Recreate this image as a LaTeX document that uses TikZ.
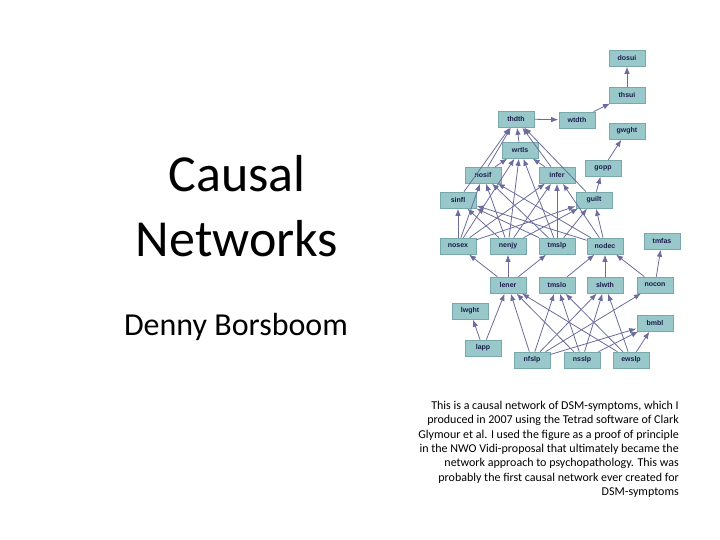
\documentclass[tikz,border=0pt]{standalone}
\usepackage{fontspec}
\setmainfont{Carlito}
\newfontfamily\netfont{Liberation Sans}
\usetikzlibrary{arrows.meta}

\definecolor{boxfill}{HTML}{98C8CA}
\definecolor{boxline}{HTML}{78A8AC}
\definecolor{boxtext}{HTML}{1C1C4C}
\definecolor{edgecol}{HTML}{6C6C9C}

\tikzset{
  varbox/.style={draw=boxline, fill=boxfill, line width=0.6pt, minimum width=36pt,
    minimum height=16pt, inner sep=0pt, text=boxtext, font=\netfont\bfseries\fontsize{7}{8}\selectfont},
  edge/.style={draw=edgecol, line width=0.8pt, -{Latex[length=7pt,width=5.5pt]}, shorten >=0.5pt},
}

\begin{document}
\begin{tikzpicture}[x=1pt,y=-1pt]
  \useasboundingbox (0,0) rectangle (720,540);     % the slide
  % left titles
  \node[align=center, font=\fontsize{52}{65}\selectfont] (title) at (237,206) {Causal\\Networks};
  \node[font=\fontsize{32}{36}\selectfont] (author) at (236,327) {Denny Borsboom};
  % the network: name/x/y
  \foreach \n/\x/\y in {dosui/627/58, thsui/627/95, thdth/516/119, wtdth/577/120,
      gwght/627/131, wrtls/520/150, nosif/483/175, infer/557/175, gopp/603/168,
      sinfl/458/200, guilt/594/200, nosex/458/246, nenjy/508/246, tmslp/557/246,
      nodec/605/246, tmfas/662/241, lener/508/285, tmslo/557/285, slwth/605/285,
      nocon/655/285, lwght/470/311, bmbl/655/323, lapp/483/348, nfslp/532/360,
      nsslp/582/360, ewslp/631/360}
    \node[varbox] (\n) at (\x,\y) {\n};
  % top part
  \foreach \a/\b in {thsui/dosui, wtdth/thsui, thdth/wtdth, gopp/gwght, guilt/gopp,
      wrtls/thdth, nosif/thdth, sinfl/thdth, infer/thdth, guilt/thdth,
      nosif/wrtls, infer/wrtls, nenjy/wrtls, tmslp/wrtls, nosex/wrtls}
    \draw[edge] (\a) -- (\b);
  % middle rows
  \foreach \a/\b in {nosex/sinfl, nosex/nosif, nosex/infer, nosex/guilt,
      nenjy/sinfl, nenjy/nosif, nenjy/infer, nenjy/guilt,
      tmslp/sinfl, tmslp/nosif, tmslp/infer, tmslp/guilt,
      nodec/sinfl, nodec/nosif, nodec/infer, nodec/guilt}
    \draw[edge] (\a) -- (\b);
  % bottom part
  \foreach \a/\b in {lener/nosex, lener/nenjy, lener/tmslp, tmslo/nodec, slwth/nodec,
      nocon/nodec, nocon/tmfas, lapp/lwght, lapp/lener,
      nfslp/lener, nfslp/tmslo, nfslp/slwth, nfslp/nocon, nfslp/bmbl,
      nsslp/lener, nsslp/tmslo, nsslp/slwth, nsslp/bmbl,
      ewslp/lener, ewslp/tmslo, ewslp/slwth, ewslp/bmbl}
    \draw[edge] (\a) -- (\b);
  % caption
  \node[anchor=north east, align=right, inner sep=0pt,
    font=\fontsize{12}{14.3}\selectfont] (caption) at (679,401)
    {This is a causal network of DSM-symptoms, which I\\
     produced in 2007 using the Tetrad software of Clark\\
     Glymour et al. I used the figure as a proof of principle\\
     in the NWO Vidi-proposal that ultimately became the\\
     network approach to psychopathology. This was\\
     probably the first causal network ever created for\\
     DSM-symptoms};
\end{tikzpicture}
\end{document}
